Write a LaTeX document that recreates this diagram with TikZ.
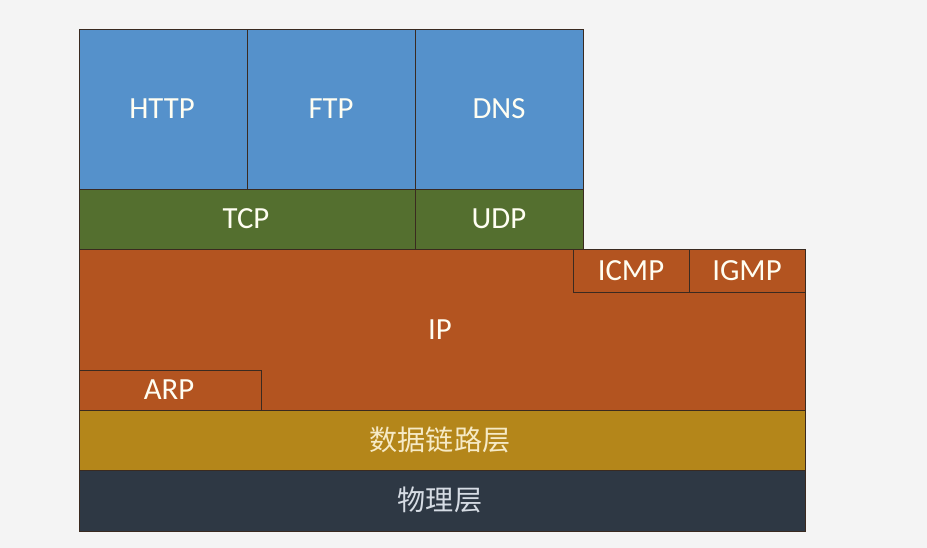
\documentclass[tikz,border=0pt]{standalone}
\usepackage{fontspec}
\setmainfont{Carlito}
\newfontfamily\cjk{Noto Sans CJK SC}
\usepackage{tikz}
\usetikzlibrary{positioning}

\definecolor{bg}{HTML}{F4F4F4}
\definecolor{appblue}{HTML}{5591CB}
\definecolor{tcpgreen}{HTML}{546F2F}
\definecolor{iporange}{HTML}{B35420}
\definecolor{linkgold}{HTML}{B4861A}
\definecolor{physdark}{HTML}{2E3844}
\definecolor{edge}{HTML}{3A2A20}
\definecolor{linktext}{HTML}{F6EAC6}
\definecolor{phystext}{HTML}{D6DCE4}

\begin{document}
\begin{tikzpicture}[
      x=0.02cm, y=-0.02cm,
      blk/.style={draw=edge, line width=0.5pt},
      lbl/.style={text=white!95!yellow, font=\fontsize{17.5}{20}\selectfont, inner sep=0pt},
      zh/.style={font=\cjk\fontsize{16}{20}\selectfont, inner sep=0pt},
    ]
    \fill[bg] (0,0) rectangle (927,548);
    % application layer
    \path[blk, fill=appblue] (79,29) rectangle (247,189);
    \path[blk, fill=appblue] (247,29) rectangle (415,189);
    \path[blk, fill=appblue] (415,29) rectangle (583,189);
    \node[lbl] (http) at (162,109) {HTTP};
    \node[lbl] (ftp) at (331,109) {FTP};
    \node[lbl] (dns) at (499,109) {DNS};
    % transport layer
    \path[blk, fill=tcpgreen] (79,189) rectangle (415,249);
    \path[blk, fill=tcpgreen] (415,189) rectangle (583,249);
    \node[lbl] (tcp) at (246,219) {TCP};
    \node[lbl] (udp) at (499,219) {UDP};
    % network layer
    \path[blk, fill=iporange] (79,249) rectangle (805,410);
    \path[blk, fill=iporange] (573,249) rectangle (689,292);
    \path[blk, fill=iporange] (689,249) rectangle (805,292);
    \path[blk, fill=iporange] (79,370) rectangle (261,410);
    \node[lbl] (icmp) at (631,271) {ICMP};
    \node[lbl] (igmp) at (747,271) {IGMP};
    \node[lbl] (ip) at (440,330) {IP};
    \node[lbl] (arp) at (169,390) {ARP};
    % link and physical layers
    \path[blk, fill=linkgold] (79,410) rectangle (805,470);
    \path[blk, fill=physdark] (79,470) rectangle (805,531);
    \node[zh, text=linktext] (link) at (440,440) {数据链路层};
    \node[zh, text=phystext] (phys) at (440,500) {物理层};
  \end{tikzpicture}
\end{document}
